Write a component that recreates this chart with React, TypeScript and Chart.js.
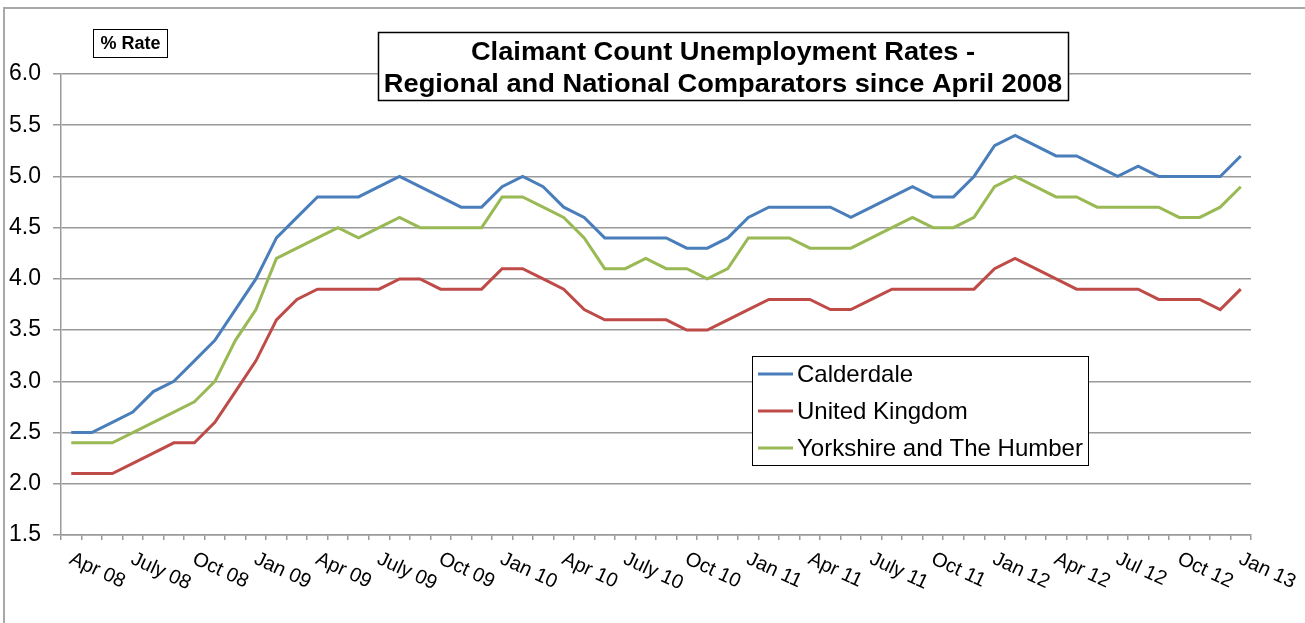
import React, { useEffect, useRef } from 'react';
import { Chart, registerables } from 'chart.js';

Chart.register(...registerables);

// ---------- DATA ----------
const months = [
  'Apr 08', 'May 08', 'Jun 08', 'Jul 08', 'Aug 08', 'Sep 08', 'Oct 08', 'Nov 08', 'Dec 08',
  'Jan 09', 'Feb 09', 'Mar 09', 'Apr 09', 'May 09', 'Jun 09', 'Jul 09', 'Aug 09', 'Sep 09',
  'Oct 09', 'Nov 09', 'Dec 09', 'Jan 10', 'Feb 10', 'Mar 10', 'Apr 10', 'May 10', 'Jun 10',
  'Jul 10', 'Aug 10', 'Sep 10', 'Oct 10', 'Nov 10', 'Dec 10', 'Jan 11', 'Feb 11', 'Mar 11',
  'Apr 11', 'May 11', 'Jun 11', 'Jul 11', 'Aug 11', 'Sep 11', 'Oct 11', 'Nov 11', 'Dec 11',
  'Jan 12', 'Feb 12', 'Mar 12', 'Apr 12', 'May 12', 'Jun 12', 'Jul 12', 'Aug 12', 'Sep 12',
  'Oct 12', 'Nov 12', 'Dec 12', 'Jan 13',
];

// shown under every third month
const xTickLabels = [
  'Apr 08', 'July 08', 'Oct 08', 'Jan 09', 'Apr 09', 'July 09', 'Oct 09', 'Jan 10', 'Apr 10', 'July 10',
  'Oct 10', 'Jan 11', 'Apr 11', 'July 11', 'Oct 11', 'Jan 12', 'Apr 12', 'Jul 12', 'Oct 12', 'Jan 13',
];
const xTickStep = 3;

const calderdale = [
  2.5, 2.5, 2.6, 2.7, 2.9, 3.0, 3.2, 3.4, 3.7, 4.0, 4.4, 4.6, 4.8, 4.8, 4.8, 4.9, 5.0, 4.9, 4.8, 4.7,
  4.7, 4.9, 5.0, 4.9, 4.7, 4.6, 4.4, 4.4, 4.4, 4.4, 4.3, 4.3, 4.4, 4.6, 4.7, 4.7, 4.7, 4.7, 4.6, 4.7,
  4.8, 4.9, 4.8, 4.8, 5.0, 5.3, 5.4, 5.3, 5.2, 5.2, 5.1, 5.0, 5.1, 5.0, 5.0, 5.0, 5.0, 5.2,
];
const unitedKingdom = [
  2.1, 2.1, 2.1, 2.2, 2.3, 2.4, 2.4, 2.6, 2.9, 3.2, 3.6, 3.8, 3.9, 3.9, 3.9, 3.9, 4.0, 4.0, 3.9, 3.9,
  3.9, 4.1, 4.1, 4.0, 3.9, 3.7, 3.6, 3.6, 3.6, 3.6, 3.5, 3.5, 3.6, 3.7, 3.8, 3.8, 3.8, 3.7, 3.7, 3.8,
  3.9, 3.9, 3.9, 3.9, 3.9, 4.1, 4.2, 4.1, 4.0, 3.9, 3.9, 3.9, 3.9, 3.8, 3.8, 3.8, 3.7, 3.9,
];
const yorkshire = [
  2.4, 2.4, 2.4, 2.5, 2.6, 2.7, 2.8, 3.0, 3.4, 3.7, 4.2, 4.3, 4.4, 4.5, 4.4, 4.5, 4.6, 4.5, 4.5, 4.5,
  4.5, 4.8, 4.8, 4.7, 4.6, 4.4, 4.1, 4.1, 4.2, 4.1, 4.1, 4.0, 4.1, 4.4, 4.4, 4.4, 4.3, 4.3, 4.3, 4.4,
  4.5, 4.6, 4.5, 4.5, 4.6, 4.9, 5.0, 4.9, 4.8, 4.8, 4.7, 4.7, 4.7, 4.7, 4.6, 4.6, 4.7, 4.9,
];

const seriesNames = ['Calderdale', 'United Kingdom', 'Yorkshire and The Humber'];
const seriesColors = ['#4a7ebb', '#be4b48', '#98b954'];

const yMin = 1.5;
const yMax = 6.0;
const yStep = 0.5;

const titleLines = ['Claimant Count Unemployment Rates -', 'Regional and National Comparators since April 2008'];
const yAxisTitle = '% Rate';

// ---------- STYLE ----------
const FONT = '"Liberation Sans", Arial, sans-serif';
const GRID = '#9a9a9a';

const decorPlugin = {
  id: 'decor',
  beforeDraw(chart: any) {
    const ctx = chart.ctx;
    ctx.save();
    ctx.fillStyle = '#ffffff';
    ctx.fillRect(0, 0, chart.width, chart.height);
    ctx.strokeStyle = '#a8a8a8';
    ctx.lineWidth = 2;
    ctx.beginPath();
    ctx.moveTo(4, chart.height);
    ctx.lineTo(4, 8);
    ctx.lineTo(chart.width, 8);
    ctx.stroke();
    ctx.restore();
  },
  afterDraw(chart: any) {
    const ctx = chart.ctx;
    const xs = chart.scales.x;
    const area = chart.chartArea;
    ctx.save();

    // rotated x labels
    ctx.fillStyle = '#000';
    ctx.font = `20px ${FONT}`;
    ctx.textAlign = 'left';
    ctx.textBaseline = 'alphabetic';
    xTickLabels.forEach((lab, k) => {
      const x = xs.getPixelForValue(k * xTickStep);
      ctx.save();
      ctx.translate(x - 3, area.bottom + 28);
      ctx.rotate((25 * Math.PI) / 180);
      ctx.fillText(lab, 0, 0);
      ctx.restore();
    });

    // "% Rate" box
    ctx.fillStyle = '#fff';
    ctx.fillRect(93, 29, 74, 28);
    ctx.strokeStyle = '#000';
    ctx.lineWidth = 1;
    ctx.strokeRect(93.5, 29.5, 74, 28);
    ctx.fillStyle = '#000';
    ctx.font = `bold 18px ${FONT}`;
    ctx.textAlign = 'center';
    ctx.textBaseline = 'middle';
    ctx.fillText(yAxisTitle, 130.5, 44);

    // title box
    ctx.fillStyle = '#fff';
    ctx.fillRect(378, 32, 690, 68);
    ctx.strokeStyle = '#000';
    ctx.lineWidth = 1.5;
    ctx.strokeRect(378.5, 32.5, 690, 68);
    ctx.fillStyle = '#000';
    ctx.font = `bold 25px ${FONT}`;
    ctx.textAlign = 'center';
    ctx.textBaseline = 'alphabetic';
    const baselines = [60, 92];
    titleLines.forEach((t, i) => {
      ctx.save();
      ctx.translate(723, baselines[i]);
      ctx.scale(1.09, 1);
      ctx.fillText(t, 0, 0);
      ctx.restore();
    });

    // legend box
    ctx.fillStyle = '#fff';
    ctx.fillRect(752, 356, 336, 109);
    ctx.strokeStyle = '#000';
    ctx.lineWidth = 1;
    ctx.strokeRect(752.5, 356.5, 336, 109);
    ctx.font = `24px ${FONT}`;
    ctx.textAlign = 'left';
    ctx.textBaseline = 'middle';
    chart.data.datasets.forEach((ds: any, i: number) => {
      const y = 374 + i * 37;
      ctx.strokeStyle = ds.borderColor;
      ctx.lineWidth = 3;
      ctx.beginPath();
      ctx.moveTo(758, y);
      ctx.lineTo(793, y);
      ctx.stroke();
      ctx.fillStyle = '#000';
      ctx.fillText(ds.label, 797, y + 1);
    });

    ctx.restore();
  },
};

export default function App() {
  const ref = useRef<HTMLCanvasElement | null>(null);

  useEffect(() => {
    if (!ref.current) return;
    const series = [calderdale, unitedKingdom, yorkshire];
    const chart = new Chart(ref.current, {
      type: 'line',
      data: {
        labels: months,
        datasets: series.map((d, i) => ({
          label: seriesNames[i],
          data: d,
          borderColor: seriesColors[i],
          backgroundColor: seriesColors[i],
          borderWidth: 3,
          pointRadius: 0,
          tension: 0,
          fill: false,
        })),
      },
      options: {
        responsive: false,
        animation: false,
        devicePixelRatio: 1,
        layout: { padding: { left: 0, top: 74, right: 54, bottom: 0 } },
        plugins: {
          legend: { display: false },
          title: { display: false },
          tooltip: { enabled: false },
        },
        scales: {
          x: {
            type: 'category',
            offset: true,
            grid: {
              display: true,
              drawOnChartArea: false,
              drawTicks: true,
              tickLength: 5,
              offset: true,
              color: GRID,
              lineWidth: 1.5,
            },
            border: { display: true, color: GRID, width: 1.5 },
            ticks: { display: false, autoSkip: false },
            afterFit: (s: any) => {
              s.height = 88;
            },
          },
          y: {
            min: yMin,
            max: yMax,
            grid: {
              color: GRID,
              lineWidth: 1.5,
              drawTicks: true,
              tickLength: 8,
            },
            border: { display: true, color: GRID, width: 1.5 },
            ticks: {
              stepSize: yStep,
              padding: 12,
              color: '#000',
              font: { family: FONT, size: 23 },
              callback: (v: any) => Number(v).toFixed(1),
            },
            afterFit: (s: any) => {
              s.width = 61;
            },
          },
        },
      },
      plugins: [decorPlugin],
    } as any);
    return () => chart.destroy();
  }, []);

  return (
    <div style={{ position: 'fixed', left: 0, top: 0, width: 1305, height: 623, background: '#fff' }}>
      <canvas ref={ref} width={1305} height={623} style={{ display: 'block' }} />
    </div>
  );
}
